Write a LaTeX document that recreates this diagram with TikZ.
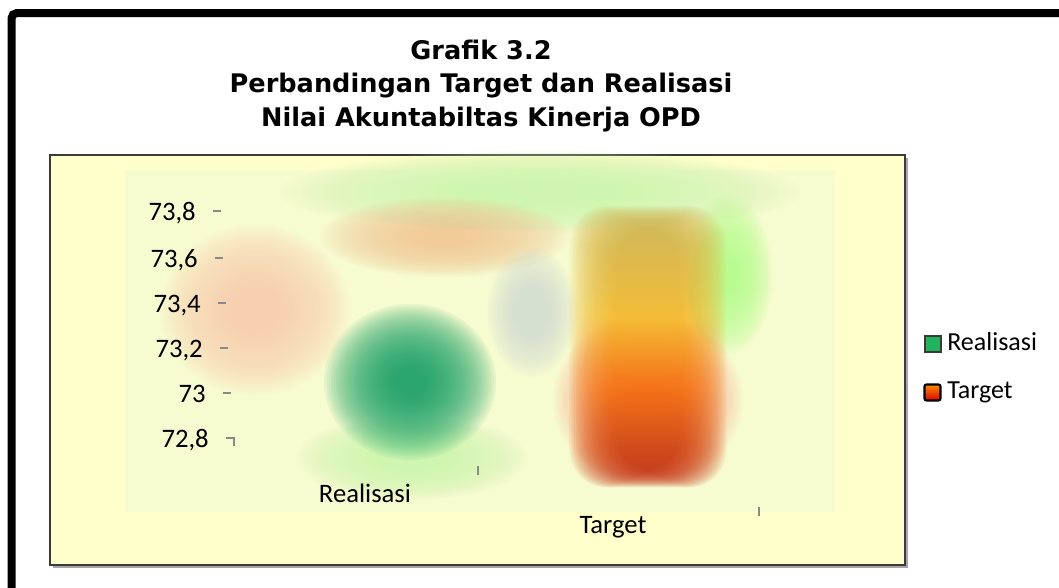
\documentclass[tikz,border=0pt]{standalone}
\usepackage{fontspec}
\setmainfont{Carlito}
\newfontfamily\titlefont{DejaVu Sans}

\definecolor{plotbg}{HTML}{FFFFCC}
\definecolor{plottint}{HTML}{F7FBD0}
\definecolor{plotedge}{HTML}{3A3A3A}
\definecolor{tickgray}{HTML}{8A8A8A}
\definecolor{realgreen}{HTML}{14A066}
\definecolor{hazegreen}{HTML}{CFF6B0}
\definecolor{hazepeach}{HTML}{F2CC98}
\definecolor{hazepink}{HTML}{F8D0B0}
\definecolor{hazeblue}{HTML}{D6E0D6}
\definecolor{sidegreen}{HTML}{B8FC90}
\definecolor{targethalo}{HTML}{FFA488}
\definecolor{legendgreen}{HTML}{22B35E}

% colours of the target column, bottom to top
\pgfdeclareverticalshading{targetcolumn}{100bp}{color(0bp)=(rgb,255:red,232;green,196;blue,176); color(10bp)=(rgb,255:red,132;green,56;blue,40); color(25bp)=(rgb,255:red,196;green,44;blue,16); color(42bp)=(rgb,255:red,244;green,112;blue,14); color(56bp)=(rgb,255:red,244;green,186;blue,40); color(75bp)=(rgb,255:red,210;green,182;blue,80); color(92bp)=(rgb,255:red,232;green,216;blue,160); color(100bp)=(rgb,255:red,246;green,242;blue,196)}

\tikzstyle{title}=[align=center,inner sep=0pt,font=\titlefont\bfseries\fontsize{19.2}{25}\selectfont]
\tikzstyle{axislabel}=[anchor=base east,inner sep=0pt,font=\fontsize{20}{24}\selectfont]
\tikzstyle{catlabel}=[anchor=base,inner sep=0pt,font=\fontsize{20}{24}\selectfont]
\tikzstyle{legendlabel}=[anchor=base west,inner sep=0pt,font=\fontsize{19.5}{22}\selectfont]
\tikzstyle{legendbox}=[draw=plotedge,line width=0.8pt,minimum size=12pt,inner sep=0pt]
\tikzstyle{tick}=[draw=tickgray,line width=1.1pt]
\newcommand{\pxscale}{0.75pt}
% a blurred spot: many faint ellipses stacked on one another
\newcommand{\softblob}[4]{%
    \foreach \k in {1,...,30}
        \fill[#4, fill opacity=0.065] #1 ellipse [x radius={#2*(1.03-\k/35)}, y radius={#3*(1.03-\k/35)}];}

\begin{document}
\begin{tikzpicture}[x=\pxscale, y=-\pxscale]
    \useasboundingbox (0,0) rectangle (1059,587);
    \clip (0,0) rectangle (1059,587);
    % First we draw the frame and the plot area
    \fill[white] (0,0) rectangle (1059,587);
    \draw[line width=6pt, rounded corners=4pt] (11.5,620) -- (11.5,13) -- (1080,13);
    \draw[gray!70, line width=1pt] (907,158) -- (907,567) -- (53,567);
    \draw[plotedge, fill=plotbg, line width=1.2pt] (50,155) rectangle (905,565);
    \fill[plottint] (125,170) rectangle (835,512);
    % Blurred bars and haze
    \foreach \pos/\rx/\ry/\col in {{(540,192)/260/42/hazegreen}, {(445,237)/125/40/hazepeach},
        {(255,310)/95/85/hazepink}, {(532,312)/45/65/hazeblue}, {(412,458)/115/42/hazegreen},
        {(728,275)/45/80/sidegreen}, {(410,382)/86/78/realgreen}, {(648,400)/95/85/targethalo}}
        \softblob{\pos}{\rx}{\ry}{\col};
    \foreach \k in {1,...,30}
        \shade[shading=targetcolumn, fill opacity=0.065, rounded corners=28]
            (648-80+\k*1.6,205+\k*0.8) rectangle (648+80-\k*1.6,488-\k*0.6);
    % Value axis labels and ticks
    \foreach \val/\rx/\yy/\name in {{73,8}/196/212/lab1, {73,6}/198/259/lab2, {73,4}/201/304/lab3,
        {73,2}/203/349/lab4, {73}/206/394/lab5}
    {
        \node[axislabel] (\name) at (\rx,\yy+8.5) {\val};
        \draw[tick] (\rx+17,\yy-1) -- ++(8,0);
    }
    \node[axislabel] (lab6) at (209,447.5) {72,8};
    \draw[tick] (226,438) -- (234,438) -- (234,446);
    % Category labels
    \node[catlabel] (realisasi) at (365,502) {Realisasi};
    \node[catlabel] (target) at (613,533) {Target};
    \draw[tick] (478,466) -- (478,475);
    \draw[tick] (759,507) -- (759,516);
    % Title
    \node[title] (judul) at (481,86) {Grafik 3.2\\Perbandingan Target dan Realisasi\\Nilai Akuntabiltas Kinerja OPD};
    % Legend
    \node[legendbox, fill=legendgreen] (realbox) at (933,344) {};
    \node[legendlabel] (realtext) at (947,350) {Realisasi};
    \node[legendbox, draw=black, line width=1.6pt, rounded corners=1.5pt, top color=orange!90!yellow, bottom color=red!85!black] (targetbox) at (932.5,392.5) {};
    \node[legendlabel] (targettext) at (947,398) {Target};
\end{tikzpicture}
\end{document}
